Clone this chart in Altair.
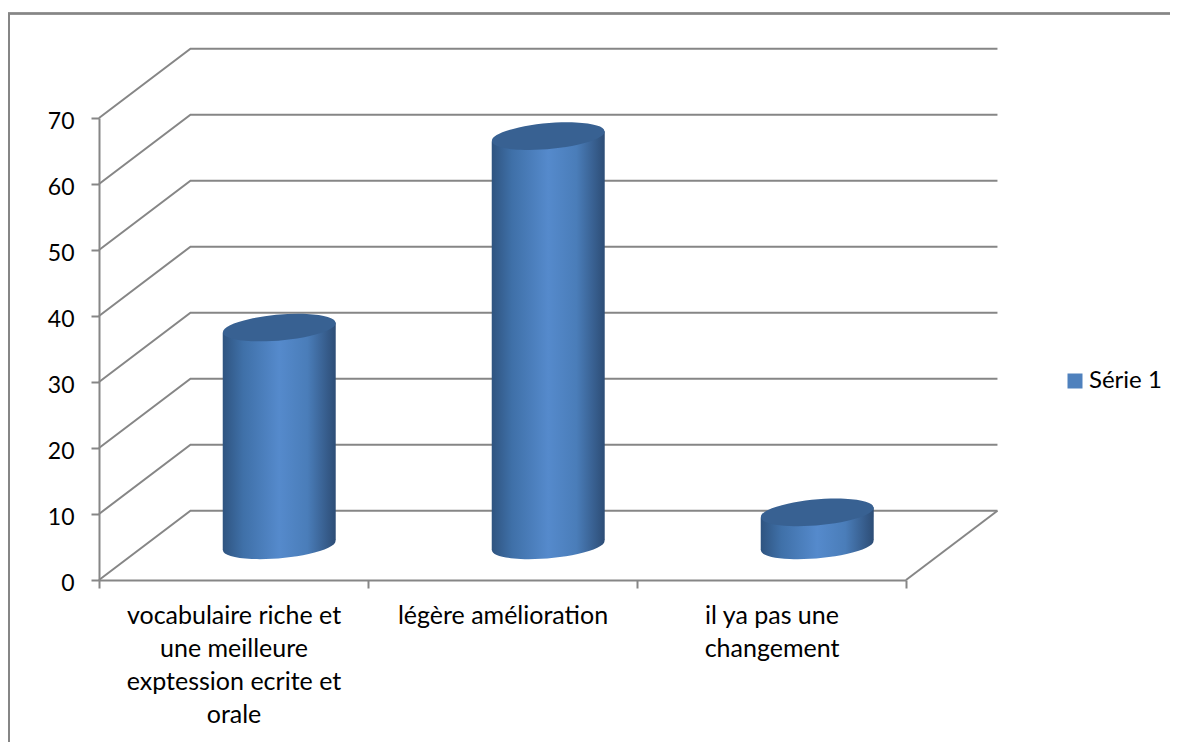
import altair as alt
import pandas as pd

categories = ["vocabulaire riche et|une meilleure|exptession ecrite et|orale",
              "légère amélioration",
              "il ya pas une|changement"]
values = [33, 62, 5]
series = ["Série 1", "Série 1", "Série 1"]
grid_values = [0, 10, 20, 30, 40, 50, 60, 70]

DEPTH_X = 0.34      # depth of the floor, in category units
DEPTH_Y = 10.5      # depth of the floor, in value units
HALF_W = 0.21       # half the cylinder width, in category units
TILT = 0.76         # half the drop of the ellipse ends, in value units
GREY = "#868686"
FONT = "Lato"
ELLIPSE = "M -0.996 0.087 A 1 0.224 -5 1 1 0.996 -0.087 A 1 0.224 -5 1 1 -0.996 0.087 Z"
CYL_SIZE = 113 ** 2

side = alt.Gradient(gradient="linear", x1=0, x2=1, y1=0, y2=0, stops=[
    alt.GradientStop(color="#2f5480", offset=0),
    alt.GradientStop(color="#3f70a8", offset=0.18),
    alt.GradientStop(color="#558acc", offset=0.5),
    alt.GradientStop(color="#4a7db9", offset=0.75),
    alt.GradientStop(color="#2d4d76", offset=1),
])

# back-wall lines
rows = []
for v in grid_values:
    rows += [dict(g=v, o=0, x=0, y=v), dict(g=v, o=1, x=DEPTH_X, y=v + DEPTH_Y),
             dict(g=v, o=2, x=3 + DEPTH_X, y=v + DEPTH_Y)]
rows += [dict(g=-1, o=0, x=3, y=0), dict(g=-1, o=1, x=3 + DEPTH_X, y=DEPTH_Y)]
grid_df = pd.DataFrame(rows)

centres = [i + 0.5 + DEPTH_X / 2 for i in range(3)]
base = DEPTH_Y / 2
cyl = pd.DataFrame(dict(c=centres, base=[base] * 3, top=[base + v for v in values]))
body = pd.DataFrame(
    [dict(k=i, x=c - HALF_W, y=base + TILT * -1, y2=base + values[i] - TILT) for i, c in enumerate(centres)]
    + [dict(k=i, x=c + HALF_W, y=base + TILT, y2=base + values[i] + TILT) for i, c in enumerate(centres)]
)
main = pd.DataFrame(dict(cat=categories, value=values, series=series))

xq = alt.X("x:Q", axis=None, scale=alt.Scale(domain=[0, 3], nice=False, zero=False))
yq = alt.Y("y:Q", axis=None, scale=alt.Scale(domain=[0, 70], nice=False))

lines = alt.Chart(grid_df).mark_line(color=GREY, strokeWidth=2).encode(
    x=xq, y=yq, detail="g:N", order="o:Q")

cxe = alt.X("c:Q", axis=None, scale=alt.Scale(domain=[0, 3], nice=False, zero=False))
bottom = alt.Chart(cyl).mark_point(shape=ELLIPSE, size=CYL_SIZE, filled=True, fill=side, opacity=1, strokeWidth=0).encode(
    x=cxe, y=alt.Y("base:Q", axis=None, scale=alt.Scale(domain=[0, 70], nice=False)))
sides = alt.Chart(body).mark_area(fill=side, opacity=1).encode(
    x=xq, y=yq, y2="y2:Q", detail="k:N")
top = alt.Chart(cyl).mark_point(shape=ELLIPSE, size=CYL_SIZE, filled=True, fill="#386192", opacity=1, strokeWidth=0).encode(
    x=cxe, y=alt.Y("top:Q", axis=None, scale=alt.Scale(domain=[0, 70], nice=False)))

axes = alt.Chart(main).mark_square(size=0).encode(
    x=alt.X("cat:N", sort=categories, title=None,
            scale=alt.Scale(type="band", paddingInner=0, paddingOuter=0),
            axis=alt.Axis(tickBand="extent", labelAngle=0, labelAlign="center", labelBaseline="top",
                          labelExpr="split(datum.label, '|')", labelLineHeight=33, labelPadding=15,
                          labelFont=FONT, labelFontSize=25, labelColor="#000000", labelLimit=400,
                          labelOverlap=False, labelFlush=False, labelBound=False,
                          domainColor=GREY, domainWidth=2, tickColor=GREY, tickWidth=2, tickSize=8, grid=False)),
    y=alt.Y("value:Q", title=None, scale=alt.Scale(domain=[0, 70], nice=False),
            axis=alt.Axis(values=grid_values, labelFont=FONT, labelFontSize=23, labelColor="#000000",
                          labelPadding=17, labelOffset=3, domainColor=GREY, domainWidth=2, tickColor=GREY,
                          tickWidth=2, tickSize=8, grid=False)),
    color=alt.Color("series:N", title=None, scale=alt.Scale(range=["#4F81BD"]),
                    legend=alt.Legend(orient="none", legendX=964, legendY=251, symbolType="square",
                                      symbolSize=225, symbolStrokeWidth=0, symbolOpacity=1, labelFont=FONT,
                                      labelFontSize=24, labelColor="#000000", labelOffset=2, padding=0)),
)

frame_top = alt.Chart(main).mark_rule(color=GREY, strokeWidth=2).encode(
    x=alt.value(-91), x2=alt.value(1071), y=alt.value(-104.5))
frame_left = alt.Chart(main).mark_rule(color=GREY, strokeWidth=2).encode(
    x=alt.value(-90), y=alt.value(-105), y2=alt.value(624))

chart = alt.layer(frame_top, frame_left, lines, bottom, sides, top, axes).resolve_scale(
    x="independent"
).resolve_axis(y="independent").properties(
    width=807, height=462, background="white",
    autosize=alt.AutoSizeParams(type="none"),
    padding={"left": 91, "top": 110, "right": 264, "bottom": 162},
).configure_view(stroke=None)

chart.save("out.html", embed_options={"renderer": "svg", "actions": False})
